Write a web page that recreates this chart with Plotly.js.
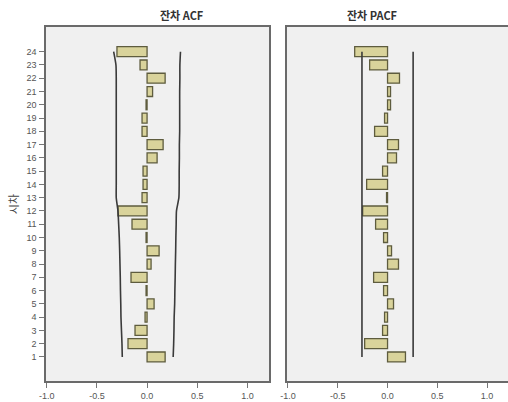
<!DOCTYPE html>
<html>
<head>
<meta charset="utf-8">
<script src="https://cdn.plot.ly/plotly-3.0.1.min.js"></script>
<style>html,body{margin:0;padding:0;background:#fff;}#chart{width:508px;height:402px;}</style>
</head>
<body>
<div id="chart"></div>
<script>
const lags = [1,2,3,4,5,6,7,8,9,10,11,12,13,14,15,16,17,18,19,20,21,22,23,24];
const acf = [0.18,-0.19,-0.12,-0.02,0.07,-0.01,-0.16,0.04,0.12,-0.01,-0.15,-0.29,-0.05,-0.04,-0.04,0.10,0.16,-0.05,-0.05,-0.01,0.055,0.18,-0.07,-0.30];
const acfUpper = [0.26,0.265,0.268,0.27,0.275,0.277,0.28,0.282,0.285,0.287,0.29,0.293,0.317,0.32,0.32,0.322,0.322,0.325,0.325,0.325,0.325,0.327,0.327,0.333];
const acfLower = [-0.247,-0.25,-0.255,-0.26,-0.262,-0.265,-0.267,-0.27,-0.273,-0.277,-0.283,-0.29,-0.307,-0.307,-0.307,-0.307,-0.307,-0.307,-0.307,-0.307,-0.307,-0.307,-0.31,-0.333];
const pacf = [0.18,-0.23,-0.05,-0.03,0.06,-0.04,-0.14,0.11,0.04,-0.04,-0.12,-0.25,-0.01,-0.21,-0.05,0.09,0.11,-0.13,-0.03,0.03,0.03,0.12,-0.18,-0.33];
const pacfUpper = lags.map(() => 0.257);
const pacfLower = lags.map(() => -0.257);
const xTicks = [-1.0,-0.5,0.0,0.5,1.0];
const titles = ['잔차 ACF','잔차 PACF'];
const yTitle = '시차';

const barStyle = {color:'#d9d39b', line:{color:'#5e5c3e', width:1.3}};
const lineStyle = {color:'#3a3a3a', width:1.6, shape:'spline', smoothing:0.6};
const traces = [
  {type:'bar', orientation:'h', y:lags, x:acf, width:0.75, marker:barStyle, xaxis:'x', yaxis:'y'},
  {type:'scatter', mode:'lines', y:lags, x:acfUpper, line:lineStyle, xaxis:'x', yaxis:'y'},
  {type:'scatter', mode:'lines', y:lags, x:acfLower, line:lineStyle, xaxis:'x', yaxis:'y'},
  {type:'bar', orientation:'h', y:lags, x:pacf, width:0.75, marker:barStyle, xaxis:'x2', yaxis:'y2'},
  {type:'scatter', mode:'lines', y:lags, x:pacfUpper, line:{color:'#3a3a3a', width:1.6}, xaxis:'x2', yaxis:'y2'},
  {type:'scatter', mode:'lines', y:lags, x:pacfLower, line:{color:'#3a3a3a', width:1.6}, xaxis:'x2', yaxis:'y2'}
];
const tickFont = {family:'Liberation Sans, Arial, sans-serif', size:9, color:'#555'};
const xCommon = {
  tickvals:xTicks, ticktext:xTicks.map(v=>v.toFixed(1)), ticks:'outside', ticklen:5, tickcolor:'#777', tickwidth:1,
  showgrid:false, zeroline:false, showline:true, linecolor:'#6a6a6a', linewidth:1.6, mirror:true,
  tickfont:tickFont, fixedrange:true, ticklabelstandoff:1
};
const yRange = [-0.81, 25.86];
const layout = {
  width:508, height:402,
  margin:{l:46, r:0, t:27, b:21},
  paper_bgcolor:'#ffffff', plot_bgcolor:'#f0f0f0',
  showlegend:false, bargap:0,
  xaxis:Object.assign({}, xCommon, {domain:[0,0.4827], range:[-1.007,1.215], anchor:'y'}),
  xaxis2:Object.assign({}, xCommon, {domain:[0.521,1], range:[-1.013,1.21], anchor:'y2'}),
  yaxis:{domain:[0,1], range:yRange, tickvals:lags, ticks:'outside', ticklen:5, tickcolor:'#777',
    showgrid:false, zeroline:false, showline:true, linecolor:'#6a6a6a', linewidth:1.6, mirror:true,
    tickfont:tickFont, anchor:'x', ticklabelstandoff:1,
    title:{text:yTitle, font:{family:'Noto Sans CJK KR', size:11, color:'#444'}, standoff:6}},
  yaxis2:{domain:[0,1], range:yRange, showticklabels:false, ticks:'', showgrid:false, zeroline:false,
    showline:true, linecolor:'#6a6a6a', linewidth:1.6, mirror:true, anchor:'x2'},
  annotations:[
    {text:'<b>'+titles[0]+'</b>', xref:'paper', yref:'paper', x:0.243, y:1, yanchor:'middle', yshift:12, showarrow:false,
     font:{family:'Noto Sans CJK KR', size:11, color:'#333'}},
    {text:'<b>'+titles[1]+'</b>', xref:'paper', yref:'paper', x:0.767, y:1, yanchor:'middle', yshift:12, showarrow:false,
     font:{family:'Noto Sans CJK KR', size:11, color:'#333'}}
  ]
};
Plotly.newPlot('chart', traces, layout, {displayModeBar:false, staticPlot:true});
</script>
</body>
</html>
